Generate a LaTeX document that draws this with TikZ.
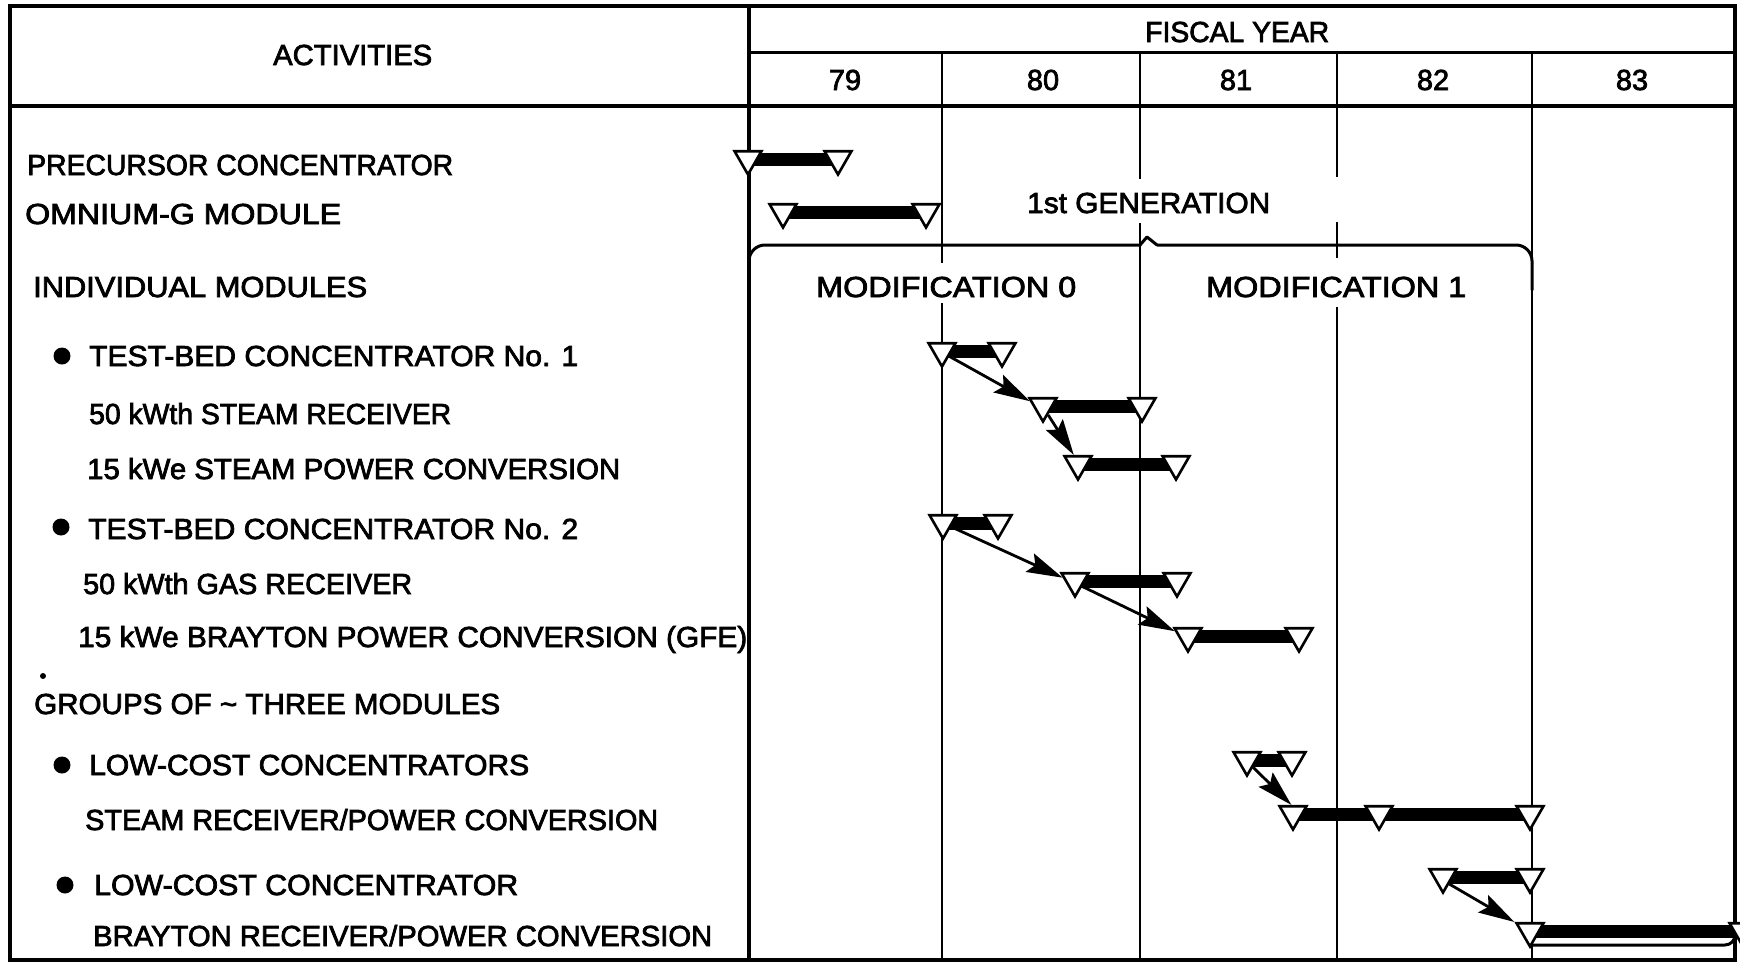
\documentclass[tikz,border=0pt]{standalone}
\usepackage{fontspec}
\setmainfont{Liberation Sans}
\newfontfamily\chartfont{Liberation Sans}[FakeBold=2.5]
\usetikzlibrary{shapes.geometric,arrows.meta}
\pgfdeclarelayer{grid}
\pgfdeclarelayer{bars}
\pgfsetlayers{grid,bars,main}
\newcommand{\fw}[2]{\resizebox{#1pt}{\height}{#2}}
\begin{document}
\begin{tikzpicture}[x=1pt,y=-1pt,font=\chartfont\fontsize{29}{34}\selectfont,
  lbl/.style={anchor=base west,inner sep=0pt},
  yr/.style={anchor=base,inner sep=0pt},
  ms/.style={regular polygon,regular polygon sides=3,shape border rotate=180,
    minimum size=31pt,inner sep=0pt,draw,fill=white,line width=2.6pt},
  bar/.style={line width=13pt},
  frame/.style={line width=4.5pt},
  gridline/.style={line width=2.6pt},
  link/.style={line width=2.8pt,-{Stealth[length=36pt,width=20pt,inset=6pt]}},
  bulletdot/.style={circle,fill=black,inner sep=0pt,minimum size=17pt},
  bracket/.style={line width=3pt,line cap=round,line join=round}]
\useasboundingbox (0,0) rectangle (1740,964);

% ---------- grid ----------
\begin{pgfonlayer}{grid}
\draw[frame] (10,6) rectangle (1735,960);
\draw[gridline,line width=3pt] (749,52) -- (1735,52);
\draw[frame] (10,106) -- (1735,106);
\draw[frame,line width=4pt] (749,6) -- (749,960);
% year dividers (with gaps around labels)
\draw[gridline] (942,52) -- (942,263) (942,303) -- (942,960);
\draw[gridline] (1140,52) -- (1140,179) (1140,223) -- (1140,960);
\draw[gridline] (1337,52) -- (1337,177) (1337,222) -- (1337,258) (1337,307) -- (1337,960);
\draw[gridline] (1532,52) -- (1532,960);
% generation bracket
\draw[bracket,rounded corners=16pt] (749,290) -- (749,245) -- (1140,245);
\draw[bracket] (1140,245) -- (1147,237) -- (1157,245);
\draw[bracket,rounded corners=16pt] (1157,245) -- (1532,245) -- (1532,290);
\draw[bracket,rounded corners=10pt] (1532,945) -- (1735,945) -- (1735,920);
\end{pgfonlayer}

% ---------- header texts ----------
\node[lbl] (hact) at (273,65) {\fw{159}{ACTIVITIES}};
\node[lbl] (hfy) at (1145,42) {\fw{184}{FISCAL YEAR}};
\node[yr] (y79) at (845,90) {79};
\node[yr] (y80) at (1043,90) {80};
\node[yr] (y81) at (1236,90) {81};
\node[yr] (y82) at (1433,90) {82};
\node[yr] (y83) at (1632,90) {83};
\node[lbl] (gen) at (1027,213) {\fw{243}{1st GENERATION}};
\node[lbl] (mod0) at (816,297) {\fw{260}{MODIFICATION 0}};
\node[lbl] (mod1) at (1206,297) {\fw{260}{MODIFICATION 1}};

% ---------- activity texts ----------
\node[lbl] (t1) at (27,175) {\fw{426}{PRECURSOR CONCENTRATOR}};
\node[lbl] (t2) at (25,224) {\fw{316}{OMNIUM-G MODULE}};
\node[lbl] (t3) at (33,297) {\fw{334}{INDIVIDUAL MODULES}};
\node[bulletdot] (b1) at (62,356) {};
\node[lbl] (t4) at (89,366) {\fw{489}{TEST-BED CONCENTRATOR No. 1}};
\node[lbl] (t5) at (89,424) {\fw{362}{50 kWth STEAM RECEIVER}};
\node[lbl] (t6) at (87,479) {\fw{533}{15 kWe STEAM POWER CONVERSION}};
\node[bulletdot] (b2) at (61,527) {};
\node[lbl] (t7) at (88,539) {\fw{490}{TEST-BED CONCENTRATOR No. 2}};
\node[lbl] (t8) at (83,594) {\fw{329}{50 kWth GAS RECEIVER}};
\node[lbl] (t9) at (78,647) {\fw{669}{15 kWe BRAYTON POWER CONVERSION (GFE)}};
\node[circle,fill=black,inner sep=0pt,minimum size=6pt] (dot) at (43,676) {};
\node[lbl] (t10) at (34,714) {\fw{466}{GROUPS OF \textasciitilde\ THREE MODULES}};
\node[bulletdot] (b3) at (62,765) {};
\node[lbl] (t11) at (89,775) {\fw{440}{LOW-COST CONCENTRATORS}};
\node[lbl] (t12) at (85,830) {\fw{573}{STEAM RECEIVER/POWER CONVERSION}};
\node[bulletdot] (b4) at (65,885) {};
\node[lbl] (t13) at (94,895) {\fw{424}{LOW-COST CONCENTRATOR}};
\node[lbl] (t14) at (93,946) {\fw{619}{BRAYTON RECEIVER/POWER CONVERSION}};

% ---------- milestones ----------
\node[ms] (P1) at (748,159) {};
\node[ms] (P2) at (838,159) {};
\node[ms] (O1) at (783,212) {};
\node[ms] (O2) at (926,212) {};
\node[ms] (A1) at (942,351) {};
\node[ms] (A2) at (1002,351) {};
\node[ms] (B1) at (1043,406) {};
\node[ms] (B2) at (1142,406) {};
\node[ms] (C1) at (1078,464) {};
\node[ms] (C2) at (1176,464) {};
\node[ms] (D1) at (943,523) {};
\node[ms] (D2) at (998,523) {};
\node[ms] (E1) at (1075,581) {};
\node[ms] (E2) at (1177,581) {};
\node[ms] (F1) at (1188,636) {};
\node[ms] (F2) at (1299,636) {};
\node[ms] (G1) at (1247,760) {};
\node[ms] (G2) at (1292,760) {};
\node[ms] (H1) at (1293,814) {};
\node[ms] (H2) at (1379,814) {};
\node[ms] (H3) at (1530,814) {};
\node[ms] (I1) at (1443,877) {};
\node[ms] (I2) at (1530,877) {};
\node[ms] (J1) at (1530,931) {};
\node[ms] (J2) at (1743,931) {};

% ---------- bars ----------
\begin{pgfonlayer}{bars}
\draw[bar] (P1.center) -- (P2.center);
\draw[bar] (O1.center) -- (O2.center);
\draw[bar] (A1.center) -- (A2.center);
\draw[bar] (B1.center) -- (B2.center);
\draw[bar] (C1.center) -- (C2.center);
\draw[bar] (D1.center) -- (D2.center);
\draw[bar] (E1.center) -- (E2.center);
\draw[bar] (F1.center) -- (F2.center);
\draw[bar] (G1.center) -- (G2.center);
\draw[bar] (H1.center) -- (H3.center);
\draw[bar] (I1.center) -- (I2.center);
\draw[bar] (J1.center) -- (J2.center);
\end{pgfonlayer}

% ---------- dependency arrows ----------
\draw[link] (A1.-36) -- (B1.160);
\draw[link] (B1.-60) -- (C1.115);
\draw[link] (D1.-25) -- (E1.165);
\draw[link] (E1.-37) -- (F1.160);
\draw[link] (G1.-50) -- (H1.100);
\draw[link] (I1.-48) -- (J1.150);
\end{tikzpicture}
\end{document}
